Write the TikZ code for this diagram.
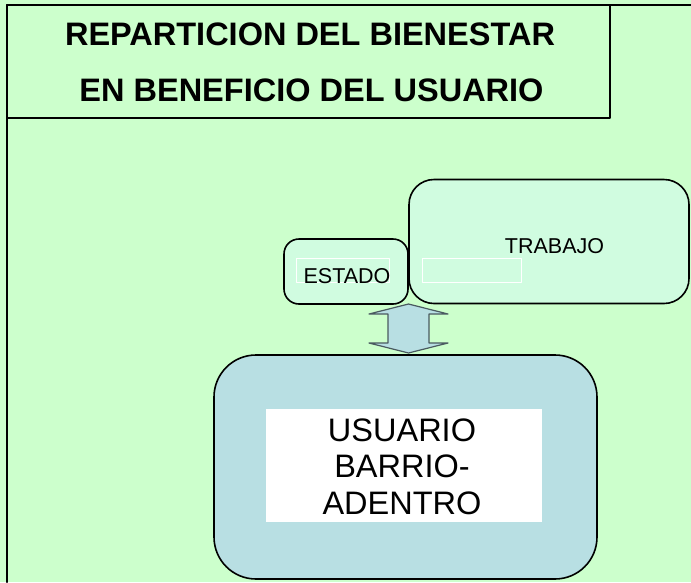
\documentclass[tikz,border=0pt]{standalone}
\usepackage{fontspec}
\setmainfont{Liberation Sans}
\definecolor{fondo}{HTML}{CCFFCC}
\definecolor{menta}{HTML}{D0FCE0}
\definecolor{celeste}{HTML}{B8DFE3}
\definecolor{gristinta}{HTML}{4A5A60}
\tikzset{
  caja/.style={draw=black, line width=1.6pt, rounded corners=#1, inner sep=0pt},
  marco/.style={draw=white, line width=0.7pt, inner sep=0pt},
  texto/.style={anchor=base, inner sep=0pt, text=black},
}
\begin{document}
\begin{tikzpicture}[x=1pt, y=-1pt, line cap=round, line join=round]
  \useasboundingbox (0,0) rectangle (691,582);
  % fondo y borde exterior
  \fill[fondo] (0,0) rectangle (691,582);
  \draw[line width=2.4pt] (7,582) -- (7,5) -- (691,5);
  % titulo
  \node[draw=black, line width=1.6pt, inner sep=0pt, minimum width=603pt, minimum height=113pt] (titulo) at (308.5,61.5) {};
  \node[texto, font=\fontsize{32.5}{36}\selectfont\bfseries] (titulo1) at (310,45.5) {REPARTICION DEL BIENESTAR};
  \node[texto, font=\fontsize{32.5}{36}\selectfont\bfseries] (titulo2) at (311.5,101.5) {EN BENEFICIO DEL USUARIO};
  % cajas de arriba
  \node[caja=25pt, fill=menta, minimum width=280pt, minimum height=124pt] (trabajo) at (549,241.5) {};
  \node[marco, minimum width=99pt, minimum height=24pt] (marcotrabajo) at (471.5,270) {};
  \node[texto, font=\fontsize{21.5}{24}\selectfont] (trabajotxt) at (554.5,253) {TRABAJO};
  \node[caja=15pt, fill=menta, minimum width=124pt, minimum height=65pt] (estado) at (346,271.5) {};
  \node[marco, minimum width=93pt, minimum height=24pt] (marcoestado) at (342.5,270) {};
  \node[texto, font=\fontsize{21.5}{24}\selectfont] (estadotxt) at (347,283) {ESTADO};
  % flecha doble
  \draw[fill=celeste, draw=gristinta, line width=1.2pt]
    (408.5,304) -- (448,314) -- (429,314) -- (429,343) -- (448,343) -- (408.5,353)
    -- (369,343) -- (388,343) -- (388,314) -- (369,314) -- cycle;
  % usuario
  \node[caja=42pt, fill=celeste, minimum width=383pt, minimum height=224pt] (usuario) at (405.5,467) {};
  \node[fill=white, inner sep=0pt, minimum width=276pt, minimum height=113pt] (marcousuario) at (404,465.5) {};
  \node[texto, font=\fontsize{32.5}{36}\selectfont] (usuario1) at (402,441) {USUARIO};
  \node[texto, font=\fontsize{32.5}{36}\selectfont] (usuario2) at (402,477) {BARRIO-};
  \node[texto, font=\fontsize{32.5}{36}\selectfont] (usuario3) at (402,514) {ADENTRO};
\end{tikzpicture}
\end{document}
